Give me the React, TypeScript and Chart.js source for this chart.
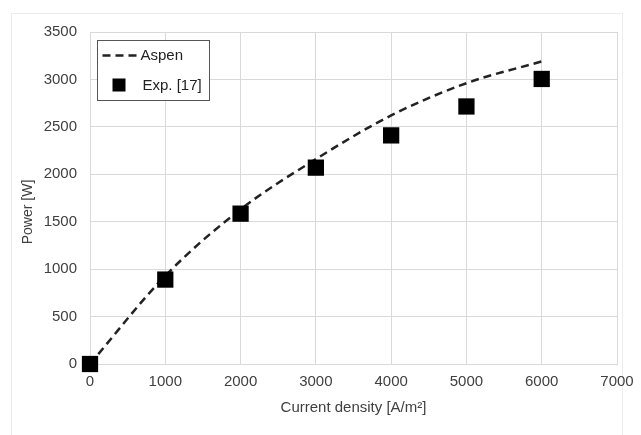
import { useEffect, useRef } from "react";
import { Chart, registerables } from "chart.js";

Chart.register(...registerables);

const currentDensity = [0, 1000, 2000, 3000, 4000, 5000, 6000];
const aspenPower = [0, 930, 1630, 2160, 2620, 2960, 3190];
const expPower = [0, 890, 1585, 2070, 2410, 2715, 3005];
const xTickValues = [0, 1000, 2000, 3000, 4000, 5000, 6000, 7000];
const yTickValues = [0, 500, 1000, 1500, 2000, 2500, 3000, 3500];
const xTitle = "Current density [A/m²]";
const yTitle = "Power [W]";
const aspenLabel = "Aspen";
const expLabel = "Exp. [17]";

const FONT = "'Liberation Sans', Arial, sans-serif";
const TEXT = "#404040";
const GRID = "#d9d9d9";
const DASH = [8, 5];

const framePlugin = {
  id: "frame",
  beforeDraw(chart: any) {
    const ctx = chart.ctx;
    ctx.save();
    ctx.fillStyle = "#ffffff";
    ctx.fillRect(0, 0, chart.width, chart.height);
    ctx.strokeStyle = "#ececec";
    ctx.lineWidth = 1;
    ctx.strokeRect(11.5, 13.5, 611, 440);
    ctx.restore();
  },
  afterDraw(chart: any) {
    const ctx = chart.ctx;
    const a = chart.chartArea;
    ctx.save();
    ctx.fillStyle = TEXT;
    ctx.font = `14px ${FONT}`;
    ctx.textAlign = "center";
    ctx.textBaseline = "middle";
    ctx.translate(28, 212);
    ctx.rotate(-Math.PI / 2);
    ctx.fillText(yTitle, 0, 0);
    ctx.restore();

    ctx.save();
    const lx = a.left + 7.5;
    const ly = a.top + 8.5;
    const lw = 112;
    const lh = 60;
    ctx.fillStyle = "#ffffff";
    ctx.fillRect(lx, ly, lw, lh);
    ctx.strokeStyle = "#555555";
    ctx.lineWidth = 1;
    ctx.strokeRect(lx, ly, lw, lh);
    ctx.strokeStyle = "#222222";
    ctx.lineWidth = 2.5;
    ctx.setLineDash(DASH);
    ctx.beginPath();
    ctx.moveTo(lx + 5, ly + 15);
    ctx.lineTo(lx + 42, ly + 15);
    ctx.stroke();
    ctx.setLineDash([]);
    ctx.fillStyle = "#000000";
    ctx.fillRect(lx + 15, ly + 38, 13, 13);
    ctx.fillStyle = "#222222";
    ctx.font = `15px ${FONT}`;
    ctx.textAlign = "left";
    ctx.textBaseline = "middle";
    ctx.fillText(aspenLabel, lx + 43, ly + 15);
    ctx.fillText(expLabel, lx + 45, ly + 45);
    ctx.restore();
  },
};

export default function App() {
  const ref = useRef<HTMLCanvasElement | null>(null);

  useEffect(() => {
    document.body.style.margin = "0";
    if (!ref.current) return;
    const chart = new Chart(ref.current, {
      type: "scatter",
      data: {
        datasets: [
          {
            label: expLabel,
            data: currentDensity.map((x, i) => ({ x, y: expPower[i] })),
            showLine: false,
            pointStyle: "rect",
            pointRadius: 11.5,
            pointBackgroundColor: "#000000",
            pointBorderColor: "#000000",
            pointBorderWidth: 0,
            clip: false,
          },
          {
            label: aspenLabel,
            data: currentDensity.map((x, i) => ({ x, y: aspenPower[i] })),
            showLine: true,
            borderColor: "#222222",
            borderWidth: 2.5,
            borderDash: DASH,
            cubicInterpolationMode: "monotone",
            pointRadius: 0,
            fill: false,
            clip: false,
          },
        ],
      },
      options: {
        responsive: false,
        animation: false,
        layout: { padding: { top: 32, right: 24, left: 0, bottom: 0 } },
        plugins: {
          legend: { display: false },
          tooltip: { enabled: false },
          title: { display: false },
        },
        scales: {
          x: {
            type: "linear",
            min: 0,
            max: 7000,
            afterBuildTicks: (s: any) => {
              s.ticks = xTickValues.map((v) => ({ value: v }));
            },
            afterFit: (s: any) => {
              s.height = 71;
              s.paddingLeft = 0;
              s.paddingRight = 0;
            },
            grid: { color: GRID, drawTicks: false, lineWidth: 1 },
            border: { color: GRID },
            ticks: {
              color: TEXT,
              font: { family: FONT, size: 15 },
              padding: 9,
              maxRotation: 0,
              callback: (v: any) => String(v),
            },
            title: {
              display: true,
              text: xTitle,
              color: TEXT,
              font: { family: FONT, size: 15 },
              padding: { top: 0, bottom: 18 },
            },
          },
          y: {
            type: "linear",
            min: 0,
            max: 3500,
            afterBuildTicks: (s: any) => {
              s.ticks = yTickValues.map((v) => ({ value: v }));
            },
            afterFit: (s: any) => {
              s.width = 90;
              s.paddingTop = 0;
              s.paddingBottom = 0;
            },
            grid: { color: GRID, drawTicks: false, lineWidth: 1 },
            border: { color: GRID },
            ticks: {
              color: TEXT,
              font: { family: FONT, size: 15 },
              padding: 13,
              callback: (v: any) => String(v),
            },
          },
        },
      },
      plugins: [framePlugin],
    } as any);
    return () => chart.destroy();
  }, []);

  return (
    <div style={{ width: 641, height: 435 }}>
      <canvas ref={ref} width={641} height={435} style={{ display: "block" }} />
    </div>
  );
}
